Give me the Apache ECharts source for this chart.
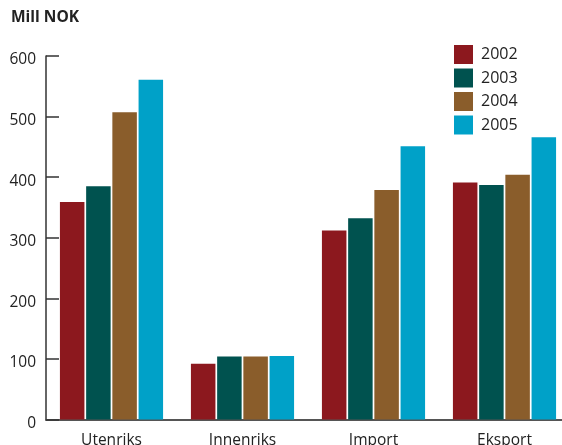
<!DOCTYPE html>
<html>
<head>
<meta charset="utf-8">
<script src="https://cdn.jsdelivr.net/npm/echarts@6/dist/echarts.min.js"></script>
<style>
  html, body { margin: 0; padding: 0; background: #fff; }
  #chart { width: 562px; height: 445px; }
</style>
</head>
<body>
<div id="chart"></div>
<script>
// Categories and yearly values (Mill NOK)
const categories = ['Utenriks', 'Innenriks', 'Import', 'Eksport'];
const years = ['2002', '2003', '2004', '2005'];
const v2002 = [359, 92, 312, 391];
const v2003 = [385, 104, 332, 387];
const v2004 = [507, 104, 379, 404];
const v2005 = [561, 105, 451, 466];
const yTicks = [0, 100, 200, 300, 400, 500, 600];

const colors = ['#8c181e', '#00524f', '#8a5d2b', '#00a1c8'];
const values = [v2002, v2003, v2004, v2005];
const font = '"Open Sans", "Noto Sans", sans-serif';

const chart = echarts.init(document.getElementById('chart'), null, { renderer: 'canvas' });

chart.setOption({
  animation: false,
  color: colors,
  textStyle: { fontFamily: font },
  title: {
    text: 'Mill NOK',
    left: 6, top: 5,
    textStyle: { fontFamily: font, fontSize: 15.5, fontWeight: 'bold', color: '#222' }
  },
  legend: {
    orient: 'vertical',
    left: 449, top: 40,
    itemWidth: 19, itemHeight: 19, itemGap: 4.5,
    icon: 'rect',
    data: years,
    textStyle: { fontFamily: font, fontSize: 16, color: '#222', padding: [0, 0, 0, 3] }
  },
  // the plot runs slightly past the right edge of the canvas
  grid: { left: 46, top: 56, right: -8, bottom: 25.5, containLabel: false, outerBoundsMode: 'none' },
  xAxis: {
    type: 'category',
    data: categories,
    axisLine: { lineStyle: { color: '#555', width: 2 } },
    axisTick: { inside: true, length: 9, lineStyle: { color: '#333', width: 1.5 } },
    axisLabel: { fontFamily: font, fontSize: 15.5, color: '#222', margin: 13 }
  },
  yAxis: {
    type: 'value',
    min: yTicks[0], max: yTicks[yTicks.length - 1], interval: 100,
    axisLine: { show: true, lineStyle: { color: '#333', width: 1.5 } },
    axisTick: { show: true, inside: true, length: 13, lineStyle: { color: '#333', width: 1.5 } },
    splitLine: { show: false },
    // numbers sit a little below their tick marks
    axisLabel: { fontFamily: font, fontSize: 15.5, color: '#222', margin: 10, verticalAlign: 'top', lineHeight: 8 }
  },
  series: years.map((y, i) => ({
    name: y,
    type: 'bar',
    data: values[i],
    barWidth: 24.5,
    barGap: '7%',
    itemStyle: { color: colors[i] }
  }))
});
</script>
</body>
</html>
